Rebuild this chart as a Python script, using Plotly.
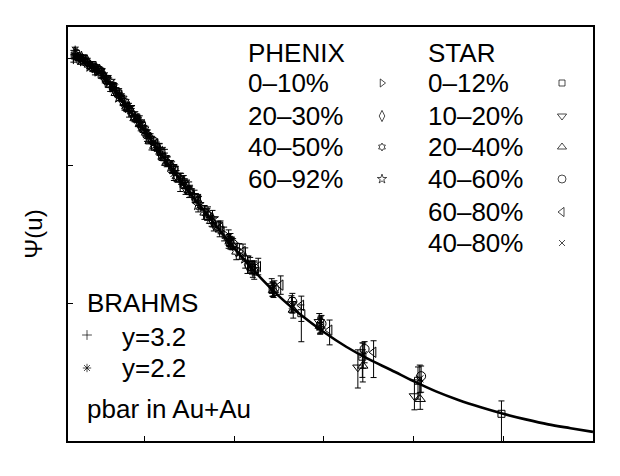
import plotly.graph_objects as go

# ---------------- data ----------------
curve_u = [0.4, 0.6, 0.8, 1.0, 1.25, 1.5, 1.75, 2.0, 2.5, 3.0, 3.5, 4.0, 4.5, 5.0, 5.5,
           6.0, 6.5, 7.0, 7.5, 8.0, 8.5, 9.0, 9.5, 10.0, 10.5, 11.0, 11.5, 12.0]
curve_psi = [2.34, 2.0, 1.51, 1.05, 0.562, 0.263, 0.120, 5.6e-2, 1.17e-2, 2.63e-3, 6.3e-4, 1.58e-4,
             4.4e-5, 1.41e-5, 5.4e-6, 2.34e-6, 1.12e-6, 6.0e-7, 3.5e-7, 2.0e-7, 1.2e-7, 7.8e-8,
             5.4e-8, 3.9e-8, 2.95e-8, 2.3e-8, 1.9e-8, 1.58e-8]

# PHENIX (error in decades)
phx_0_10_u = [0.48, 0.68, 0.88, 1.08, 1.28, 1.48, 1.68, 1.88, 2.08, 2.28, 2.52, 2.82, 3.12, 3.42, 3.78, 4.12]
phx_0_10_psi = [2.9, 1.80, 1.26, 0.91, 0.50, 0.295, 0.158, 8.7e-2, 4.7e-2, 2.5e-2, 1.2e-2, 5.0e-3,
                2.1e-3, 8.9e-4, 3.16e-4, 1.32e-4]
phx_0_10_err = [0.04, 0.04, 0.04, 0.05, 0.05, 0.06, 0.07, 0.08, 0.09, 0.10, 0.11, 0.12, 0.13, 0.14, 0.15, 0.17]

phx_20_30_u = [0.52, 0.72, 0.92, 1.12, 1.32, 1.52, 1.72, 1.92, 2.14, 2.36, 2.62, 2.92, 3.22, 3.55, 3.92, 4.30]
phx_20_30_psi = [2.07, 1.84, 1.22, 0.74, 0.48, 0.234, 0.141, 6.8e-2, 3.8e-2, 1.74e-2, 8.9e-3, 3.1e-3,
                 1.51e-3, 5.2e-4, 2.19e-4, 6.8e-5]
phx_20_30_err = [0.04, 0.04, 0.05, 0.05, 0.06, 0.07, 0.08, 0.09, 0.10, 0.11, 0.12, 0.13, 0.14, 0.15, 0.17, 0.19]

phx_40_50_u = [0.56, 0.76, 0.96, 1.16, 1.36, 1.56, 1.78, 2.0, 2.22, 2.46, 2.72, 3.02, 3.34, 3.68, 4.05, 4.45]
phx_40_50_psi = [2.19, 1.53, 1.20, 0.72, 0.37, 0.234, 0.105, 5.9e-2, 2.63e-2, 1.41e-2, 5.75e-3, 2.69e-3,
                 9.3e-4, 3.98e-4, 1.32e-4, 5.2e-5]
phx_40_50_err = [0.04, 0.04, 0.05, 0.05, 0.06, 0.07, 0.08, 0.09, 0.10, 0.11, 0.12, 0.13, 0.15, 0.16, 0.18, 0.20]

phx_60_92_u = [0.60, 0.80, 1.0, 1.22, 1.44, 1.66, 1.88, 2.10, 2.34, 2.60, 2.88, 3.20, 3.52, 3.88, 4.25]
phx_60_92_psi = [2.19, 1.41, 1.12, 0.66, 0.30, 0.178, 8.7e-2, 3.7e-2, 2.19e-2, 9.3e-3, 4.27e-3, 1.38e-3,
                 6.8e-4, 2.45e-4, 9.5e-5]
phx_60_92_err = [0.05, 0.05, 0.06, 0.07, 0.08, 0.09, 0.10, 0.11, 0.12, 0.13, 0.14, 0.16, 0.18, 0.20, 0.22]

# BRAHMS (error in decades)
brm_32_u = [0.42, 0.58, 0.74, 0.90, 1.06, 1.24, 1.44, 1.66, 1.90, 2.16, 2.46, 2.80]
brm_32_psi = [2.07, 1.86, 1.74, 1.12, 1.0, 0.50, 0.355, 0.145, 8.7e-2, 3.0e-2, 1.48e-2, 4.2e-3]
brm_32_err = [0.08, 0.08, 0.08, 0.09, 0.09, 0.10, 0.11, 0.12, 0.13, 0.15, 0.17, 0.20]

brm_22_u = [0.46, 0.62, 0.78, 0.95, 1.14, 1.34, 1.56, 1.80, 2.06, 2.34, 2.66, 3.00]
brm_22_psi = [3.1, 2.09, 1.45, 1.26, 0.71, 0.48, 0.195, 0.112, 4.3e-2, 2.19e-2, 6.5e-3, 2.9e-3]
brm_22_err = [0.07, 0.07, 0.07, 0.08, 0.08, 0.09, 0.10, 0.11, 0.12, 0.13, 0.15, 0.17]

# STAR (errors up / down, in decades)
star_0_12_u = [0.45, 0.65, 0.85, 1.05, 1.3, 1.6, 1.95, 2.4, 2.9, 3.4, 3.92, 4.40, 4.86, 5.50, 5.92,
               6.86, 8.10, 9.96]
star_0_12_psi = [2.4, 1.78, 1.48, 0.91, 0.52, 0.19, 7.1e-2, 1.51e-2, 3.8e-3, 7.9e-4, 2.09e-4, 6.0e-5,
                 2.0e-5, 6.0e-6, 3.16e-6, 6.8e-7, 2.04e-7, 3.9e-8]
star_0_12_eup = [0.04, 0.04, 0.04, 0.05, 0.05, 0.06, 0.07, 0.08, 0.09, 0.10, 0.12, 0.14, 0.16, 0.18,
                 0.16, 0.30, 0.30, 0.28]
star_0_12_edn = [0.04, 0.04, 0.04, 0.05, 0.05, 0.06, 0.07, 0.08, 0.09, 0.10, 0.12, 0.14, 0.16, 0.62,
                 0.16, 0.45, 0.40, 1.2]

star_10_20_u = [0.50, 0.80, 1.15, 1.50, 1.90, 2.35, 2.85, 3.35, 3.88, 4.36, 4.84, 5.28, 5.90, 6.76, 8.02]
star_10_20_psi = [2.29, 1.58, 0.79, 0.28, 8.1e-2, 2.0e-2, 4.5e-3, 1.02e-3, 2.34e-4, 7.1e-5, 2.34e-5,
                  9.5e-6, 3.9e-6, 4.0e-7, 9.5e-8]
star_10_20_eup = [0.04, 0.04, 0.05, 0.06, 0.07, 0.08, 0.09, 0.10, 0.12, 0.14, 0.16, 0.18, 0.18, 0.38, 0.35]
star_10_20_edn = [0.04, 0.04, 0.05, 0.06, 0.07, 0.08, 0.09, 0.10, 0.12, 0.14, 0.16, 0.18, 0.18, 0.45, 0.30]

star_20_40_u = [0.55, 0.90, 1.25, 1.65, 2.05, 2.50, 3.0, 3.5, 3.95, 4.42, 4.88, 5.32, 5.92, 6.87, 8.15]
star_20_40_psi = [2.14, 1.20, 0.54, 0.17, 5.0e-2, 1.1e-2, 2.8e-3, 6.0e-4, 1.9e-4, 5.0e-5, 1.9e-5,
                  7.1e-6, 3.16e-6, 4.3e-7, 8.1e-8]
star_20_40_eup = [0.04, 0.04, 0.05, 0.06, 0.07, 0.08, 0.09, 0.11, 0.12, 0.14, 0.16, 0.18, 0.18, 0.35, 0.40]
star_20_40_edn = [0.04, 0.04, 0.05, 0.06, 0.07, 0.08, 0.09, 0.11, 0.12, 0.14, 0.16, 0.18, 0.18, 0.35, 0.22]

star_40_60_u = [0.60, 1.0, 1.40, 1.80, 2.20, 2.65, 3.15, 3.65, 3.98, 4.46, 4.90, 5.30, 5.95, 6.91, 8.17]
star_40_60_psi = [2.04, 1.12, 0.38, 0.11, 3.3e-2, 8.3e-3, 1.9e-3, 4.7e-4, 1.9e-4, 5.6e-5, 2.1e-5,
                  1.07e-5, 3.55e-6, 1.0e-6, 2.57e-7]
star_40_60_eup = [0.04, 0.04, 0.05, 0.06, 0.07, 0.08, 0.10, 0.11, 0.12, 0.14, 0.16, 0.18, 0.18, 0.16, 0.22]
star_40_60_edn = [0.04, 0.04, 0.05, 0.06, 0.07, 0.08, 0.10, 0.11, 0.12, 0.14, 0.16, 0.18, 0.18, 0.30, 0.35]

star_60_80_u = [0.65, 1.05, 1.45, 1.85, 2.25, 2.70, 3.20, 3.70, 4.20, 4.54, 5.04, 5.50, 6.13, 7.11]
star_60_80_psi = [1.95, 1.0, 0.33, 0.10, 2.9e-2, 7.4e-3, 1.74e-3, 4.4e-4, 1.32e-4, 6.2e-5, 2.45e-5,
                  8.9e-6, 2.57e-6, 8.5e-7]
star_60_80_eup = [0.05, 0.05, 0.06, 0.07, 0.08, 0.10, 0.12, 0.14, 0.16, 0.18, 0.20, 0.20, 0.22, 0.25]
star_60_80_edn = [0.05, 0.05, 0.06, 0.07, 0.08, 0.10, 0.12, 0.14, 0.16, 0.18, 0.20, 0.35, 0.32, 0.55]

star_40_80_u = [1.1, 2.0, 3.0, 3.9, 4.4, 4.86, 5.3, 5.93, 6.88, 8.14]
star_40_80_psi = [0.87, 6.0e-2, 2.8e-3, 2.19e-4, 5.75e-5, 2.0e-5, 8.9e-6, 3.4e-6, 7.6e-7, 2.24e-7]
star_40_80_eup = [0.05, 0.07, 0.09, 0.11, 0.13, 0.15, 0.17, 0.18, 0.25, 0.30]
star_40_80_edn = [0.05, 0.07, 0.09, 0.11, 0.13, 0.15, 0.17, 0.18, 0.30, 0.30]

# tick labels
xtick_vals = [2, 4, 6, 8, 10, 12]
xtick_text = ["2", "4", "6", "8", "10", "12"]
ytick_exp = [1, -2, -5, -8]
ytick_text = ["10<sup>1</sup>", "10<sup>−2</sup>", "10<sup>−5</sup>", "10<sup>−8</sup>"]

# legend labels
phenix_labels = ["0–10%", "20–30%", "40–50%", "60–92%"]
star_labels = ["0–12%", "10–20%", "20–40%", "40–60%", "60–80%", "40–80%"]
brahms_labels = ["y=3.2", "y=2.2"]

# ---------------- figure ----------------
FONT = "Liberation Sans"
X_RANGE = [0.3, 12]
Y_RANGE = [-8, 1]
PX_L, PX_R, PX_T, PX_B = 68, 593, 27, 441
W, H = 620, 476
TICK = 5  # px
PPD_Y = (PX_B - PX_T) / (Y_RANGE[1] - Y_RANGE[0])   # px per decade

fig = go.Figure()


def fx(px):
    return (px - PX_L) / (PX_R - PX_L)


def fy(py):
    return (PX_B - py) / (PX_B - PX_T)


def dx(px):
    return X_RANGE[0] + fx(px) * (X_RANGE[1] - X_RANGE[0])


def dy(py):
    return 10 ** (Y_RANGE[0] + fy(py) * (Y_RANGE[1] - Y_RANGE[0]))


def ypix(exp):
    return PX_T + (Y_RANGE[1] - exp) * PPD_Y


# ---- curve ----
fig.add_trace(go.Scatter(x=curve_u, y=curve_psi, mode="lines",
                         line=dict(color="black", width=2.6, shape="spline"), showlegend=False))


def add_series(u, psi, up_dec, dn_dec, symbol, size):
    ep = [p * (10 ** d - 1) for p, d in zip(psi, up_dec)]
    em = [p * (1 - 10 ** (-d)) for p, d in zip(psi, dn_dec)]
    fig.add_trace(go.Scatter(
        x=u, y=psi, mode="markers",
        marker=dict(symbol=symbol, size=size, color="black", line=dict(color="black", width=1)),
        error_y=dict(type="data", array=ep, arrayminus=em, symmetric=False, color="black",
                     thickness=1, width=3),
        showlegend=False))


add_series(phx_0_10_u, phx_0_10_psi, phx_0_10_err, phx_0_10_err, "triangle-right-open", 8)
add_series(phx_20_30_u, phx_20_30_psi, phx_20_30_err, phx_20_30_err, "diamond-tall-open", 9)
add_series(phx_40_50_u, phx_40_50_psi, phx_40_50_err, phx_40_50_err, "hexagram-open", 8)
add_series(phx_60_92_u, phx_60_92_psi, phx_60_92_err, phx_60_92_err, "star-open", 9)
add_series(brm_32_u, brm_32_psi, brm_32_err, brm_32_err, "cross-thin-open", 8)
add_series(brm_22_u, brm_22_psi, brm_22_err, brm_22_err, "asterisk-open", 8)
add_series(star_0_12_u, star_0_12_psi, star_0_12_eup, star_0_12_edn, "square-open", 7)
add_series(star_10_20_u, star_10_20_psi, star_10_20_eup, star_10_20_edn, "triangle-down-open", 9)
add_series(star_20_40_u, star_20_40_psi, star_20_40_eup, star_20_40_edn, "triangle-up-open", 9)
add_series(star_40_60_u, star_40_60_psi, star_40_60_eup, star_40_60_edn, "circle-open", 9)
add_series(star_60_80_u, star_60_80_psi, star_60_80_eup, star_60_80_edn, "triangle-left-open", 9)
add_series(star_40_80_u, star_40_80_psi, star_40_80_eup, star_40_80_edn, "x-thin-open", 7)

# ---- legend symbols (layout positions) ----
phx_rows = [83, 116, 147, 179]
star_rows = [83, 116, 147, 179, 212, 243]
leg_px = [382] * 4 + [562] * 6 + [87] * 2
leg_py = phx_rows + star_rows + [335, 368]
leg_sym = ["triangle-right-open", "diamond-tall-open", "hexagram-open", "star-open",
           "square-open", "triangle-down-open", "triangle-up-open", "circle-open", "triangle-left-open",
           "x-thin-open", "cross-thin-open", "asterisk-open"]
leg_size = [7, 8, 6, 7, 6, 8, 8, 8, 8, 6, 7, 7]
fig.add_trace(go.Scatter(x=[dx(p) for p in leg_px], y=[dy(p) for p in leg_py], mode="markers",
                         marker=dict(symbol=leg_sym, size=leg_size, color="black",
                                     line=dict(color="black", width=1)),
                         showlegend=False))


# ---- all texts as text traces (positions given in pixels of the layout) ----
def add_text(items, size, position):
    # items: list of (px, py_visual_centre, text); baseline sits 0.25em below the anchor point
    shift = 0.11 * size
    fig.add_trace(go.Scatter(
        x=[dx(p) for p, _, _ in items], y=[dy(q + shift) for _, q, _ in items],
        text=[t for _, _, t in items], mode="text", textposition=position,
        textfont=dict(family=FONT, size=size, color="black"),
        cliponaxis=False, showlegend=False, hoverinfo="skip"))


LF = 26
legend_items = [(248, 53, "PHENIX"), (428, 53, "STAR")]
legend_items += [(248, r, s) for r, s in zip(phx_rows, phenix_labels)]
legend_items += [(428, r, s) for r, s in zip(star_rows, star_labels)]
legend_items += [(87, 303, "BRAHMS"), (122, 337, brahms_labels[0]), (122, 368, brahms_labels[1]),
                 (87, 409, "pbar in Au+Au")]
add_text(legend_items, LF, "middle right")

add_text([(16, ypix(e), s) for e, s in zip(ytick_exp, ytick_text)], 22, "middle right")
add_text([(PX_L + (v - X_RANGE[0]) * (PX_R - PX_L) / (X_RANGE[1] - X_RANGE[0]), 462, s)
          for v, s in zip(xtick_vals, xtick_text)], 22, "middle center")
add_text([(366, 472, "u")], 26, "middle center")

fig.update_layout(
    width=W, height=H,
    margin=dict(l=PX_L, r=W - PX_R, t=PX_T, b=H - PX_B, autoexpand=False),
    paper_bgcolor="white", plot_bgcolor="white",
    showlegend=False,
    xaxis=dict(range=X_RANGE, showline=True, linecolor="black", linewidth=2, mirror=True,
               ticks="inside", tickvals=xtick_vals, ticklen=TICK, tickcolor="black",
               showgrid=False, zeroline=False, showticklabels=False),
    yaxis=dict(type="log", range=Y_RANGE, showline=True, linecolor="black", linewidth=2, mirror=True,
               ticks="inside", tickvals=[10 ** e for e in ytick_exp], ticklen=TICK, tickcolor="black",
               showgrid=False, zeroline=False, showticklabels=False, automargin=False,
               title=dict(text="Ψ(u)", font=dict(family=FONT, size=24, color="black"), standoff=17)),
)

fig.write_html("out.html", config={"displayModeBar": False},
               post_script="document.body.style.margin='0px';document.body.style.overflow='hidden';")
